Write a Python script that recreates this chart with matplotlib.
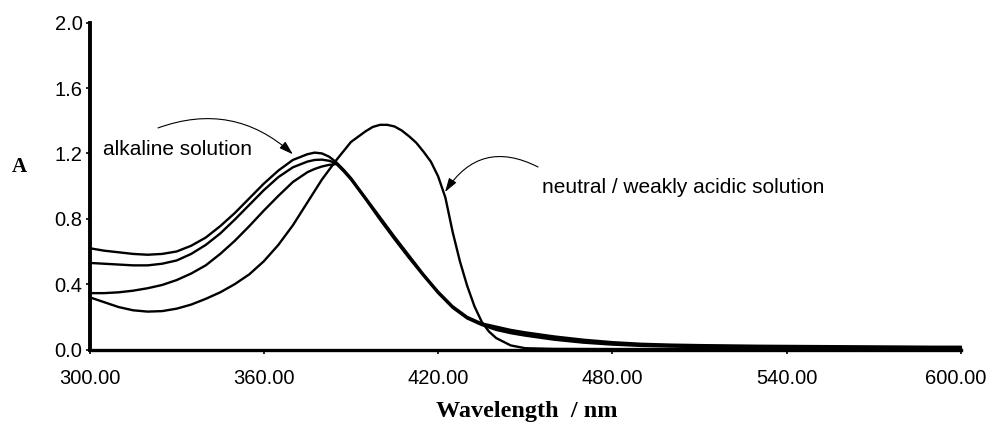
import matplotlib
matplotlib.use("Agg")
import matplotlib.pyplot as plt
from matplotlib.transforms import ScaledTranslation

wavelength = [300, 305, 310, 315, 320, 325, 330, 335, 340, 345, 350, 355, 360, 365, 370,
              375, 377.5, 380, 382.5, 385, 387.5, 390, 392.5, 395, 400, 405, 410, 415,
              420, 425, 430, 435, 440, 445, 450,
              460, 470, 480, 490, 500, 510, 520, 530, 540, 550, 560, 570, 580, 590, 600]

alkaline_1 = [0.62, 0.605, 0.595, 0.585, 0.58, 0.585, 0.60, 0.635, 0.685, 0.755, 0.835, 0.925,
              1.015, 1.095, 1.16, 1.195, 1.205, 1.20, 1.18, 1.145, 1.10, 1.05, 0.99, 0.93,
              0.81, 0.69, 0.575, 0.46,
              0.355, 0.265, 0.20, 0.16, 0.14, 0.12, 0.105,
              0.08, 0.06, 0.045, 0.035, 0.03, 0.027, 0.025, 0.023, 0.022, 0.021, 0.02, 0.019,
              0.018, 0.017, 0.017]

alkaline_2 = [0.53, 0.525, 0.52, 0.515, 0.515, 0.525, 0.545, 0.585, 0.64, 0.71, 0.795, 0.885,
              0.975, 1.055, 1.115, 1.15, 1.16, 1.162, 1.155, 1.14, 1.095, 1.045, 0.985, 0.925,
              0.80, 0.68, 0.565, 0.455,
              0.35, 0.26, 0.195, 0.155, 0.13, 0.11, 0.095,
              0.07, 0.05, 0.037, 0.028, 0.023, 0.02, 0.018, 0.017, 0.016, 0.015, 0.014, 0.013,
              0.013, 0.012, 0.012]

alkaline_3 = [0.345, 0.345, 0.35, 0.36, 0.375, 0.395, 0.425, 0.465, 0.515, 0.585, 0.665, 0.755,
              0.85, 0.94, 1.025, 1.085, 1.105, 1.12, 1.13, 1.135, 1.09, 1.04, 0.98, 0.92,
              0.795, 0.675, 0.56, 0.45,
              0.345, 0.255, 0.19, 0.15, 0.12, 0.10, 0.085,
              0.06, 0.042, 0.03, 0.022, 0.018, 0.015, 0.013, 0.012, 0.011, 0.01, 0.01, 0.009,
              0.009, 0.008, 0.008]

neutral_wavelength = [300, 305, 310, 315, 320, 325, 330, 335, 340, 345, 350, 355, 360, 365,
                      370, 375, 380, 385, 390, 395, 397.5, 400, 402.5, 405, 407.5, 410, 412.5,
                      415, 417.5, 420, 422.5, 425, 427.5, 430, 432.5, 435, 437.5, 440, 445,
                      450, 460, 480, 500, 520, 540, 560, 580, 600]

neutral = [0.32, 0.29, 0.26, 0.24, 0.232, 0.235, 0.25, 0.275, 0.31, 0.35, 0.40, 0.46,
           0.54, 0.64, 0.76, 0.90, 1.04, 1.16, 1.27, 1.335, 1.362, 1.375, 1.375, 1.365,
           1.34, 1.305, 1.265, 1.21, 1.15, 1.06, 0.93, 0.72, 0.54, 0.39, 0.265, 0.17,
           0.11, 0.07, 0.025, 0.008, 0.004, 0.003, 0.003, 0.003, 0.003, 0.003, 0.003, 0.003]

x_ticks = [300, 360, 420, 480, 540, 600]
y_ticks = [0.0, 0.4, 0.8, 1.2, 1.6, 2.0]

fig = plt.figure(figsize=(9.89, 4.25), dpi=100)
ax = fig.add_axes([0.0905, 0.1776, 0.8812, 0.769])

for wl, series in [(wavelength, alkaline_1), (wavelength, alkaline_2),
                   (wavelength, alkaline_3), (neutral_wavelength, neutral)]:
    ax.plot(wl, series, color="black", lw=1.7, solid_joinstyle="round",
            solid_capstyle="round", clip_on=False, zorder=3)

ax.set_xlim(300, 600)
ax.set_ylim(0, 2.0)
ax.set_xticks(x_ticks)
ax.set_xticklabels([f"{v:.2f}" for v in x_ticks])
ax.set_yticks(y_ticks)
ax.set_yticklabels([f"{v:.1f}" for v in y_ticks])

for side in ["top", "right"]:
    ax.spines[side].set_visible(False)
ax.spines["left"].set_linewidth(2.8)
ax.spines["bottom"].set_linewidth(2.4)

ax.tick_params(axis="x", direction="out", length=3, width=1.2, pad=11,
               labelsize=14.5)
ax.tick_params(axis="y", direction="out", length=3, width=1.2, pad=2,
               labelsize=14.5)
for lab in ax.get_xticklabels() + ax.get_yticklabels():
    lab.set_fontfamily("Liberation Sans")
last = ax.get_xticklabels()[-1]
last.set_transform(last.get_transform() + ScaledTranslation(-4 / 72, 0, fig.dpi_scale_trans))

ann_font = dict(fontsize=15, family="Liberation Sans", color="black")
ax.text(304.7, 1.221, "alkaline solution", ha="left", va="center", **ann_font)
ax.text(455.8, 0.994, "neutral / weakly acidic solution", ha="left", va="center", **ann_font)

arrow_style = "-|>,head_length=0.7,head_width=0.22"
ax.annotate("", xy=(370.0, 1.195), xytext=(323.6, 1.356),
            arrowprops=dict(arrowstyle=arrow_style, color="black", lw=0.8,
                            connectionstyle="arc3,rad=-0.3", shrinkA=0, shrinkB=0,
                            mutation_scale=12))
ax.annotate("", xy=(422.4, 0.964), xytext=(454.4, 1.117),
            arrowprops=dict(arrowstyle=arrow_style, color="black", lw=0.8,
                            connectionstyle="arc3,rad=0.45", shrinkA=0, shrinkB=0,
                            mutation_scale=12))

fig.text(19.5 / 989, 1 - 167 / 425, "A", ha="center", va="center",
         family="Liberation Serif", fontweight="bold", fontsize=15)
fig.text(527 / 989, 1 - 412 / 425, "Wavelength  / nm", ha="center", va="center",
         family="Liberation Serif", fontweight="bold", fontsize=17.5)

fig.savefig("out.png", dpi=100)
